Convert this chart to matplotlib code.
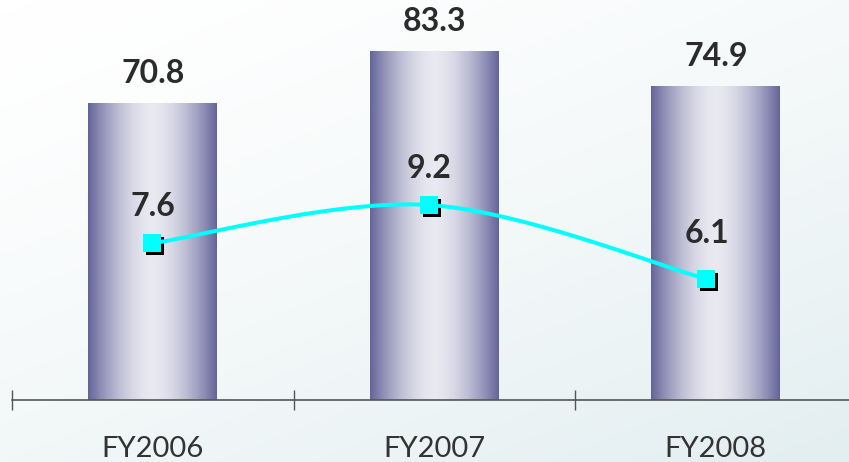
import numpy as np
import matplotlib
matplotlib.use('Agg')
import matplotlib.pyplot as plt
from matplotlib.colors import LinearSegmentedColormap
from matplotlib.transforms import ScaledTranslation

years = ['FY2006', 'FY2007', 'FY2008']
sales = [70.8, 83.3, 74.9]
margin = [7.6, 9.2, 6.1]

plt.rcParams['font.family'] = ['Lato', 'DejaVu Sans']

W_PX, H_PX = 849, 462
fig = plt.figure(figsize=(W_PX / 100, H_PX / 100), dpi=100)

# soft diagonal backdrop, white in the top-left corner
bg = fig.add_axes([0, 0, 1, 1], zorder=-10)
gx, gy = np.meshgrid(np.linspace(0, 1, 300), np.linspace(0, 1, 160))
shade = np.clip((gx * 0.55 + gy * 0.75) / 1.3, 0, 1) ** 1.4
bg_cmap = LinearSegmentedColormap.from_list('bg', ['#ffffff', '#e3eef0'])
bg.imshow(shade, cmap=bg_cmap, aspect='auto', extent=[0, 1, 0, 1], origin='upper')
bg.set_axis_off()

left, bottom = 12 / W_PX, 62 / H_PX
width, height = 837 / W_PX, 400 / H_PX

ax = fig.add_axes([left, bottom, width, height])
ax.patch.set_visible(False)
x = np.arange(len(years))

bar_cmap = LinearSegmentedColormap.from_list('bar', ['#e9e9f1', '#64649a'])
prof = np.abs(np.linspace(-1, 1, 256)) ** 1.7
grad = prof[np.newaxis, :]

bw = 0.457
bars = ax.bar(x, sales, width=bw, color='none', linewidth=0, zorder=2)
for rect in bars:
    x0 = rect.get_x()
    img = ax.imshow(grad, cmap=bar_cmap, vmin=0, vmax=1, aspect='auto',
                    extent=[x0, x0 + rect.get_width(), 0, rect.get_height()],
                    zorder=2)
    img.set_clip_path(rect)

for xi, v in zip(x, sales):
    ax.annotate(f'{v}', (xi, v), xytext=(0, 14.4), textcoords='offset points',
                ha='center', va='baseline', fontsize=23, fontweight='bold',
                color='#2b2b2b')

ax.set_xlim(-0.5, -0.5 + 837 / 281.5)
ax.set_ylim(0, 400 / 4.194)
for side in ['top', 'right', 'left']:
    ax.spines[side].set_visible(False)
ax.spines['bottom'].set_color('#555555')
ax.spines['bottom'].set_linewidth(1.2)
ax.set_yticks([])
ax.set_xticks([-0.5, 0.5, 1.5])
ax.set_xticklabels([])
ax.tick_params(axis='x', which='major', direction='inout', length=15,
               width=1, color='#555555')
ax.set_xticks(x, minor=True)
ax.set_xticklabels(years, minor=True)
ax.tick_params(axis='x', which='minor', length=0, pad=26, labelsize=21,
               labelcolor='#333333')

# margin line on its own scale
ax2 = fig.add_axes([left, bottom, width, height], zorder=3)
ax2.patch.set_visible(False)
ax2.set_axis_off()
ax2.set_xlim((12 - 152.5) / 277, (849 - 152.5) / 277)
ax2.set_ylim(1.03, 17.79)

# smoothed curve (Catmull-Rom in display space)
pts = ax2.transData.transform(np.column_stack([x, margin]))
ext = np.vstack([pts[0], pts, pts[-1]])
curve = []
for i in range(len(pts) - 1):
    p0, p1, p2, p3 = ext[i], ext[i + 1], ext[i + 2], ext[i + 3]
    c1 = p1 + (p2 - p0) / 6
    c2 = p2 - (p3 - p1) / 6
    t = np.linspace(0, 1, 60)[:, None]
    seg = ((1 - t) ** 3 * p1 + 3 * (1 - t) ** 2 * t * c1
           + 3 * (1 - t) * t ** 2 * c2 + t ** 3 * p2)
    curve.append(seg)
curve = ax2.transData.inverted().transform(np.vstack(curve))
ax2.plot(curve[:, 0], curve[:, 1], color='#00ffff', lw=2.9, zorder=3,
         solid_capstyle='round')

shadow = ax2.transData + ScaledTranslation(3 / 100, -3 / 100, fig.dpi_scale_trans)
ax2.plot(x, margin, 's', ms=13, color='black', mew=0, transform=shadow, zorder=2)
ax2.plot(x, margin, 's', ms=13, color='#00ffff', mew=0, zorder=4)

for xi, v, off in zip(x, margin, [19.4, 19.4, 26]):
    ax2.annotate(f'{v}', (xi, v), xytext=(0, off), textcoords='offset points',
                 ha='center', va='baseline', fontsize=23, fontweight='bold',
                 color='#2b2b2b')

fig.savefig('out.png', dpi=100)
